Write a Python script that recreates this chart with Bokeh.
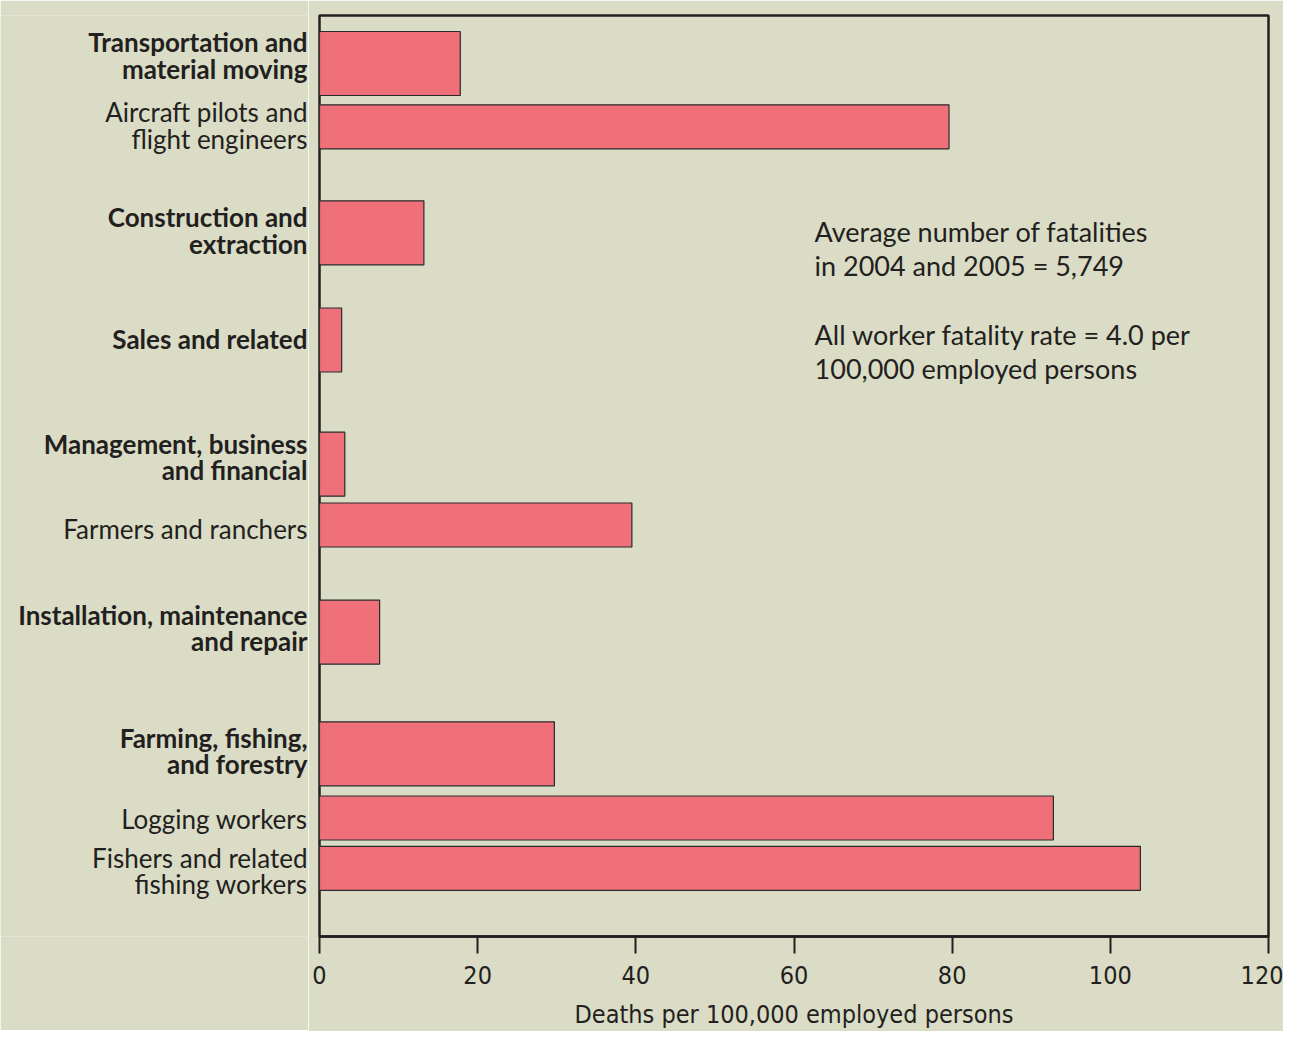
from bokeh.plotting import figure
from bokeh.layouts import row
from bokeh.models import Range1d, Label, FixedTicker, ColumnDataSource
from bokeh.core.properties import value
from bokeh.embed import file_html
from bokeh.resources import INLINE

# ---- data ----
categories = [
    "Transportation and\nmaterial moving",
    "Aircraft pilots and\nflight engineers",
    "Construction and\nextraction",
    "Sales and related",
    "Management, business\nand financial",
    "Farmers and ranchers",
    "Installation, maintenance\nand repair",
    "Farming, fishing,\nand forestry",
    "Logging workers",
    "Fishers and related\nfishing workers",
]
is_group = [True, False, True, True, True, False, True, True, False, False]
rates = [17.8, 79.6, 13.2, 2.8, 3.2, 39.5, 7.6, 29.7, 92.8, 103.8]
x_ticks = [0, 20, 40, 60, 80, 100, 120]
notes = [
    "Average number of fatalities\nin 2004 and 2005 = 5,749",
    "All worker fatality rate = 4.0 per\n100,000 employed persons",
]
axis_title = "Deaths per 100,000 employed persons"

# ---- layout (vertical slots, frame units: 0 = top) ----
row_center = [48, 111.3, 217.3, 324.5, 448.7, 509.5, 616.7, 738.3, 802.5, 852.8]
label_center = [40, 110, 215, 323.5, 441.5, 513.5, 612.5, 735.5, 803.5, 855.5]
bar_h = [64 if g else 44 for g in is_group]

BG = "#dadcc5"
BAR = "#f0707a"
INK = "#231f20"
FONT = "Lato"
TICKFONT = "DejaVu Sans Condensed"
BOTTOM = 94

yr = Range1d(921, 0)

# label panel (left)
lab = figure(frame_width=308, frame_height=921, output_backend="svg", toolbar_location=None,
             x_range=Range1d(0, 308), y_range=yr, x_axis_location=None, y_axis_location=None,
             min_border_left=0, min_border_right=0, min_border_top=15, min_border_bottom=BOTTOM)
lab.background_fill_color = BG
lab.border_fill_color = BG
lab.outline_line_color = None
lab.xgrid.visible = False
lab.ygrid.visible = False

bold_src = ColumnDataSource(dict(
    y=[c for c, g in zip(label_center, is_group) if g],
    t=[t for t, g in zip(categories, is_group) if g]))
norm_src = ColumnDataSource(dict(
    y=[c for c, g in zip(label_center, is_group) if not g],
    t=[t for t, g in zip(categories, is_group) if not g]))
lab.text(x=307, y="y", text="t", source=bold_src, text_align="right", text_baseline="middle",
         text_font=value(FONT), text_font_style="bold", text_font_size="26px",
         text_color=INK, text_line_height=0.82)
lab.text(x=307, y="y", text="t", source=norm_src, text_align="right", text_baseline="middle",
         text_font=value(FONT), text_font_style="normal", text_font_size="26px",
         text_color=INK, text_line_height=0.82)

# main chart
p = figure(frame_width=949, frame_height=921, output_backend="svg", toolbar_location=None,
           x_range=Range1d(0, 120), y_range=yr, y_axis_location=None,
           min_border_left=11, min_border_right=15, min_border_top=15, min_border_bottom=BOTTOM)
p.background_fill_color = BG
p.border_fill_color = BG
p.outline_line_color = INK
p.outline_line_width = 2.5
p.xgrid.visible = False
p.ygrid.visible = False

src = ColumnDataSource(dict(y=row_center, right=rates, h=bar_h))
p.hbar(y="y", left=0, right="right", height="h", source=src,
       fill_color=BAR, line_color="#2a2a2a", line_width=1.2)

ax = p.xaxis[0]
ax.ticker = FixedTicker(ticks=x_ticks)
ax.minor_tick_line_color = None
ax.major_tick_out = 17
ax.major_tick_in = 0
ax.major_tick_line_color = INK
ax.major_tick_line_width = 2
ax.axis_line_color = INK
ax.axis_line_width = 2.5
ax.major_label_text_font = TICKFONT
ax.major_label_text_font_size = "25px"
ax.major_label_text_color = INK
ax.major_label_standoff = 12
ax.axis_label = axis_title
ax.axis_label_text_font = TICKFONT
ax.axis_label_text_font_size = "25px"
ax.axis_label_text_font_style = "normal"
ax.axis_label_text_color = INK
ax.axis_label_standoff = 13

note_y = [199, 302]
for t, ny in zip(notes, note_y):
    p.add_layout(Label(x=62.6, y=ny, text=t, text_align="left", text_baseline="top",
                       text_font=FONT, text_font_size="27px", text_color=INK,
                       text_line_height=1.05))

layout = row(lab, p)
open("out.html", "w").write(file_html(layout, INLINE))
